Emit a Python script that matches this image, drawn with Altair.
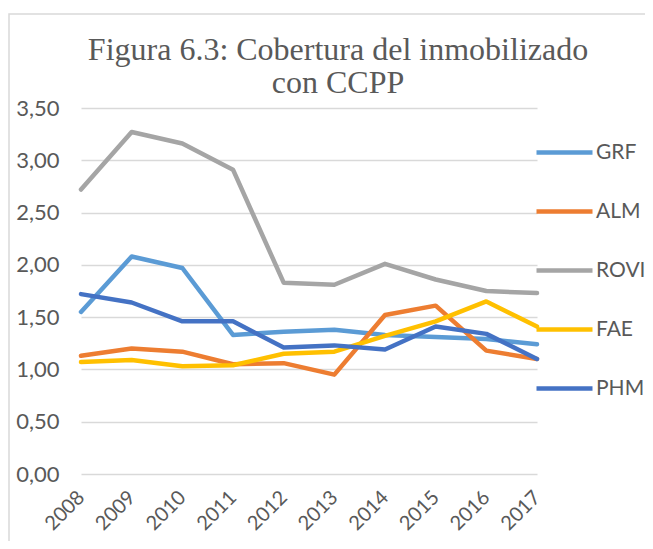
import altair as alt
import pandas as pd

years = ["2008", "2009", "2010", "2011", "2012", "2013", "2014", "2015", "2016", "2017"]
series = ["GRF", "ALM", "ROVI", "FAE", "PHM"]
colors = ["#5B9BD5", "#ED7D31", "#A5A5A5", "#FFC000", "#4472C4"]

grf = [1.55, 2.08, 1.97, 1.33, 1.36, 1.38, 1.33, 1.31, 1.29, 1.24]
alm = [1.13, 1.20, 1.17, 1.05, 1.06, 0.95, 1.52, 1.61, 1.18, 1.10]
rovi = [2.72, 3.27, 3.16, 2.91, 1.83, 1.81, 2.01, 1.86, 1.75, 1.73]
fae = [1.07, 1.09, 1.03, 1.04, 1.15, 1.17, 1.32, 1.46, 1.65, 1.41]
phm = [1.72, 1.64, 1.46, 1.46, 1.21, 1.23, 1.19, 1.41, 1.34, 1.10]

values = {"GRF": grf, "ALM": alm, "ROVI": rovi, "FAE": fae, "PHM": phm}
rows = []
for s in series:
    for y, v in zip(years, values[s]):
        rows.append({"year": y, "serie": s, "valor": v})
df = pd.DataFrame(rows)

W, H = 456, 366

border = alt.Chart(pd.DataFrame({"a": [0]})).mark_rect(
    fillOpacity=0, stroke="#D9D9D9", strokeWidth=1.5
).encode(
    x=alt.value(-72), x2=alt.value(720), y=alt.value(-94), y2=alt.value(520)
)

lines = alt.Chart(df).mark_line(
    strokeWidth=4.5, strokeCap="round", strokeJoin="round"
).encode(
    x=alt.X("year:O", sort=years, scale=alt.Scale(padding=0),
            axis=alt.Axis(title=None, grid=False, ticks=False, domain=False,
                          labelAngle=315, labelAlign="right", labelBaseline="middle",
                          labelPadding=20, labelFontSize=20, labelColor="#595959",
                          labelFont="Lato")),
    y=alt.Y("valor:Q", scale=alt.Scale(domain=[0, 3.5], nice=False),
            axis=alt.Axis(title=None, values=[0, 0.5, 1, 1.5, 2, 2.5, 3, 3.5],
                          labelExpr="replace(format(datum.value, '.2f'), '.', ',')",
                          grid=True, gridColor="#D9D9D9", gridWidth=1.5,
                          ticks=False, domain=False, labelPadding=22,
                          labelFontSize=22, labelColor="#595959", labelFont="Lato")),
    color=alt.Color("serie:N", sort=series,
                    scale=alt.Scale(domain=series, range=colors),
                    legend=alt.Legend(title=None, orient="none", legendX=453, legendY=14,
                                      symbolType="stroke", symbolSize=3136,
                                      symbolStrokeWidth=4.5, labelOffset=1,
                                      labelFontSize=21, labelColor="#595959",
                                      labelFont="Lato", rowPadding=18, padding=0)),
    order=alt.Order("year:O")
)

chart = alt.layer(border, lines).properties(
    width=W, height=H,
    title=alt.TitleParams(
        text=["Figura 6.3: Cobertura del inmobilizado", "con CCPP"],
        font="Liberation Serif", fontSize=32, fontWeight="normal",
        color="#595959", anchor="middle", frame="group", dx=29, lineHeight=33,
        offset=10, dy=97
    ),
    autosize=alt.AutoSizeParams(type="none"),
    padding={"left": 73, "top": 100, "right": 108, "bottom": 67}
).configure_view(stroke=None)

chart.save("out.html", embed_options={"renderer": "svg", "actions": False})
